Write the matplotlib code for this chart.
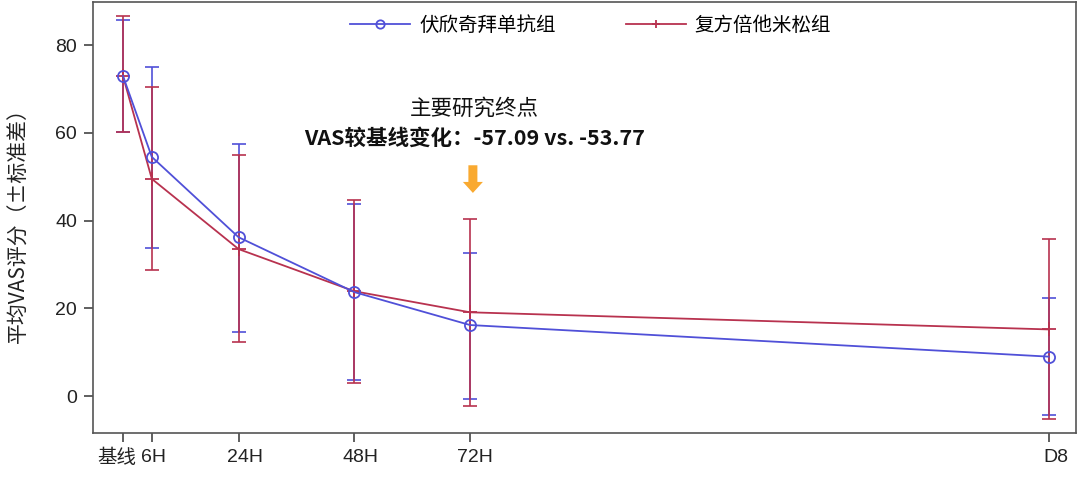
import matplotlib
matplotlib.use("Agg")
import matplotlib.pyplot as plt
import matplotlib.transforms as mtransforms
import numpy as np

plt.rcParams['font.family'] = ['Liberation Sans', 'Noto Sans CJK SC', 'DejaVu Sans']

# ---- data ----
timepoints = [0, 6, 24, 48, 72, 192]          # hours
tick_labels = ['基线', '6H', '24H', '48H', '72H', 'D8']
series_names = ['伏欣奇拜单抗组', '复方倍他米松组']

blue_mean = [73.0, 54.5, 36.2, 23.7, 16.2, 9.0]
blue_upper = [85.7, 75.1, 57.4, 43.8, 32.6, 22.4]
blue_lower = [60.2, 33.7, 14.7, 3.6, -0.6, -4.4]

red_mean = [73.0, 49.5, 33.5, 23.9, 19.1, 15.2]
red_upper = [86.7, 70.5, 54.9, 44.7, 40.3, 35.8]
red_lower = [60.2, 28.7, 12.3, 2.9, -2.3, -5.3]

annot_line1 = '主要研究终点'
annot_line2 = 'VAS较基线变化：-57.09 vs. -53.77'
ylabel = '平均VAS评分（±标准差）'

BLUE = '#5050d8'
RED = '#b8324f'
ORANGE = '#f9a930'
CJK = ['Noto Sans CJK SC', 'DejaVu Sans']

fig = plt.figure(figsize=(10.8, 4.79), dpi=100)
ax = fig.add_axes([93/1080, 1 - 433/479, (1076-93)/1080, (433-2)/479])

x = np.array(timepoints, dtype=float)

def err(mean, lo, hi):
    m = np.array(mean); l = np.array(lo); h = np.array(hi)
    return np.vstack([m - l, h - m])

ax.errorbar(x, blue_mean, yerr=err(blue_mean, blue_lower, blue_upper), fmt='none',
            ecolor=BLUE, elinewidth=1.2, capsize=5, capthick=1.2, zorder=2)
ax.errorbar(x, red_mean, yerr=err(red_mean, red_lower, red_upper), fmt='none',
            ecolor=RED, elinewidth=1.2, capsize=5, capthick=1.2, zorder=3)

l1, = ax.plot(x, blue_mean, color=BLUE, lw=1.3, marker='o', ms=8, mfc='none',
              mec=BLUE, mew=1.3, zorder=5, label=series_names[0])
l2, = ax.plot(x, red_mean, color=RED, lw=1.3, marker='+', ms=10, mew=1.3,
              zorder=4, label=series_names[1])

ax.set_xlim(-6.2, 197.7)
ax.set_ylim(-8.4, 89.8)
ax.set_xticks(x)
ax.set_xticklabels(tick_labels)
ax.set_yticks([0, 20, 40, 60, 80])
ax.tick_params(axis='both', direction='out', length=6.5, width=1.2, colors='#444444',
               labelsize=14, labelcolor='#222222', pad=5)

# small horizontal nudges of the x tick labels, as in the reference
offsets_px = [-6, 2, 6, 6, 5, 7]
for lab, dx in zip(ax.get_xticklabels(), offsets_px):
    lab.set_transform(lab.get_transform() +
                      mtransforms.ScaledTranslation(dx/100, 0, fig.dpi_scale_trans))

for s in ax.spines.values():
    s.set_color('#555555')
    s.set_linewidth(1.2)

lab = ax.set_ylabel(ylabel, fontsize=15, family=CJK, color='#222222')
ax.yaxis.set_label_coords((19 - 93) / 983, 1 - (220 - 2) / 431)
lab.set_va('center')

ax.text(73, 65.4, annot_line1, ha='center', va='center', fontsize=15.5,
        family=CJK, color='#111111')
ax.text(73, 58.8, annot_line2, ha='center', va='center', fontsize=15.5,
        fontweight='bold', family=CJK, color='#111111')

ax.annotate('', xy=(72.6, 46.3), xytext=(72.6, 52.6),
            arrowprops=dict(arrowstyle='simple,head_width=1.0,head_length=0.55,tail_width=0.45',
                            mutation_scale=14.4, color=ORANGE, lw=0,
                            shrinkA=0, shrinkB=0))

leg = fig.legend(handles=[l1, l2], loc='center left', bbox_to_anchor=(350/1080, 1 - 25/479),
                 ncol=2, frameon=False, handlelength=3.1, handletextpad=0.45,
                 columnspacing=3.6, borderpad=0, borderaxespad=0,
                 prop={'family': CJK, 'size': 14})
for h in leg.legend_handles:
    h.set_markersize(6)

fig.savefig('out.png', dpi=100)
